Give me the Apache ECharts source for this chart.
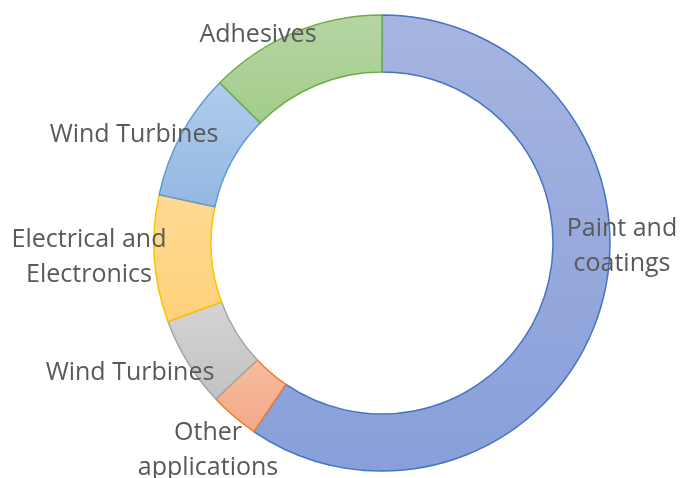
<!DOCTYPE html>
<html>
<head>
<meta charset="utf-8">
<script src="https://cdn.jsdelivr.net/npm/echarts@6/dist/echarts.min.js"></script>
<style>html,body{margin:0;padding:0;background:#fff}#c{width:680px;height:478px}</style>
</head>
<body>
<div id="c"></div>
<script>
const categories = ["Paint and\ncoatings", "Other\napplications", "Wind Turbines", "Electrical and\nElectronics", "Wind Turbines", "Adhesives"];
const values = [59.5, 3.5, 6.4, 9.0, 9.0, 12.6];

const fillTop = ["#A6B5E0", "#F6BDA0", "#D4D4D4", "#FFDA95", "#B0CCEC", "#B5D6A3"];
const fillBottom = ["#889FD9", "#F3A888", "#C2C2C2", "#FFD27A", "#93B8E2", "#A3CC8B"];
const borders = ["#4472C4", "#ED7D31", "#A5A5A5", "#FFC000", "#5B9BD5", "#70AD47"];
const labelPos = [[622, 246], [208, 450], [130, 373], [89, 257], [134, 135], [258, 35]];

const chart = echarts.init(document.getElementById('c'), null, {renderer: 'canvas'});
chart.setOption({
  animation: false,
  series: [{
    type: 'pie',
    center: [382, 243],
    radius: [171, 228],
    startAngle: 90,
    clockwise: true,
    avoidLabelOverlap: false,
    data: values.map((v, i) => ({
      name: categories[i],
      value: v,
      itemStyle: {
        color: new echarts.graphic.LinearGradient(0, 0, 0, 1, [
          {offset: 0, color: fillTop[i]}, {offset: 1, color: fillBottom[i]}
        ]),
        borderColor: borders[i],
        borderWidth: 1.5
      }
    })),
    label: {
      show: true,
      position: 'outside',
      formatter: '{b}',
      color: '#595959',
      fontFamily: 'Open Sans',
      fontSize: 25,
      lineHeight: 35,
      align: 'center'
    },
    labelLine: {show: false},
    labelLayout: function (p) {
      const pos = labelPos[p.dataIndex];
      return {x: pos[0], y: pos[1], align: 'center', verticalAlign: 'middle'};
    },
    emphasis: {disabled: true}
  }]
});
</script>
</body>
</html>
